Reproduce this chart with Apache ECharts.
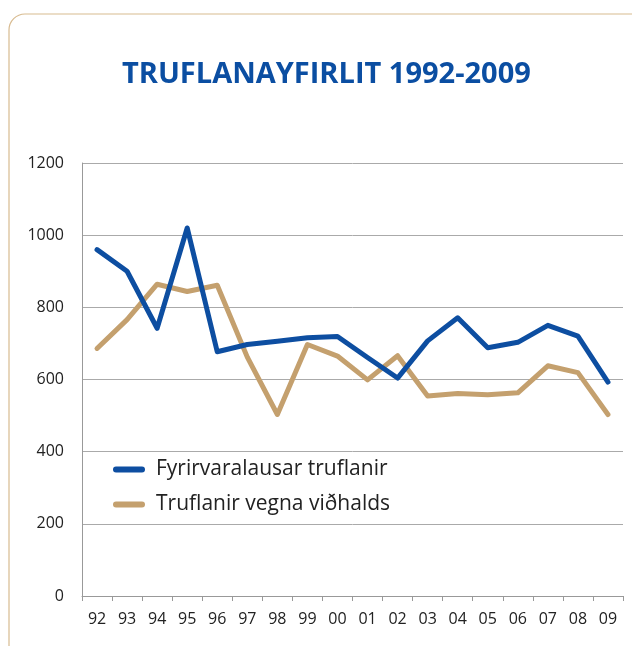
<!DOCTYPE html>
<html>
<head>
<meta charset="utf-8">
<script src="https://cdn.jsdelivr.net/npm/echarts@6/dist/echarts.min.js"></script>
<style>
html, body { margin: 0; padding: 0; background: #fff; }
#chart { width: 632px; height: 646px; }
</style>
</head>
<body>
<div id="chart"></div>
<script>
const years = ['92', '93', '94', '95', '96', '97', '98', '99', '00', '01', '02', '03', '04', '05', '06', '07', '08', '09']
const fyrirvaralausar = [960, 900, 742, 1020, 677, 697, 706, 716, 719, 661, 604, 707, 771, 688, 703, 750, 720, 593]
const vidhald = [686, 766, 864, 844, 861, 662, 503, 697, 665, 599, 666, 554, 561, 558, 563, 638, 619, 503]
const seriesNames = ['Fyrirvaralausar truflanir', 'Truflanir vegna viðhalds']

let chart = echarts.init(document.getElementById('chart'))

let pill = 'path://M3,0 L29,0 A3,3 0 0 1 29,6 L3,6 A3,3 0 0 1 3,0 Z'

let option = {
    animation: false,
    textStyle: { fontFamily: 'Open Sans' },
    graphic: [{
        type: 'rect',
        shape: { x: 9, y: 14, width: 640, height: 680, r: 16 },
        style: { fill: 'none', stroke: '#d8bb90', lineWidth: 1.2 },
        z: -1
    }],
    title: {
        text: 'TRUFLANAYFIRLIT 1992-2009',
        left: 117,
        top: 55,
        textStyle: {
            color: '#0b4ea2',
            fontSize: 29,
            fontWeight: 'bold',
            fontFamily: 'Open Sans'
        }
    },
    legend: {
        orient: 'vertical',
        left: 108,
        top: 454,
        itemWidth: 32,
        itemHeight: 6,
        itemGap: 14,
        icon: pill,
        textStyle: { fontSize: 21, color: '#222', padding: [0, 0, 0, 6] },
        data: seriesNames
    },
    grid: {
        top: 163,
        bottom: 50,
        left: 82,
        right: 9
    },
    xAxis: {
        type: 'category',
        data: years,
        boundaryGap: true,
        axisLine: { lineStyle: { color: '#999', width: 1 } },
        axisTick: { show: true, length: 5, lineStyle: { color: '#999' } },
        axisLabel: { color: '#222', fontSize: 16, margin: 15 }
    },
    yAxis: {
        type: 'value',
        min: 0,
        max: 1200,
        interval: 200,
        axisLine: { show: true, lineStyle: { color: '#999', width: 1 } },
        axisTick: { show: false },
        axisLabel: { color: '#222', fontSize: 16, margin: 18, formatter: v => String(v) },
        splitLine: { lineStyle: { color: '#aaa', width: 1 } }
    },
    series: [{
        name: seriesNames[0],
        type: 'line',
        data: fyrirvaralausar,
        symbol: 'none',
        color: '#0d4ea1',
        lineStyle: { width: 5, color: '#0d4ea1', cap: 'round', join: 'round' },
        z: 3
    }, {
        name: seriesNames[1],
        type: 'line',
        data: vidhald,
        symbol: 'none',
        color: '#c4a06e',
        lineStyle: { width: 5, color: '#c4a06e', cap: 'round', join: 'round' },
        z: 2
    }]
}
chart.setOption(option)
</script>
</body>
</html>
